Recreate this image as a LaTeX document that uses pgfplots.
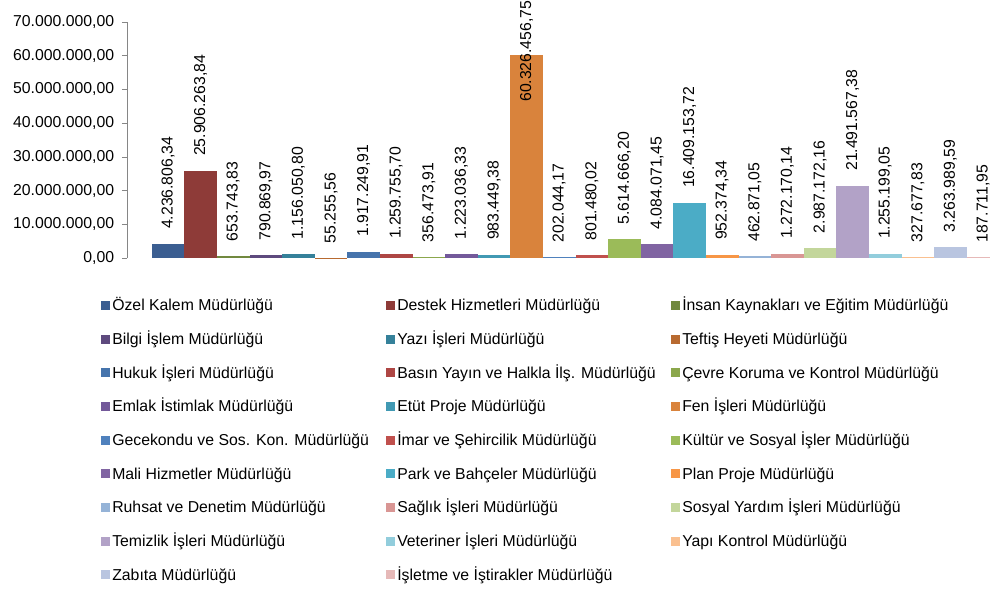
\documentclass[border=0pt]{standalone}
\usepackage{fontspec}
\setmainfont{Liberation Sans}
\usepackage{pgfplots}
\pgfplotsset{compat=1.18}

\definecolor{c1}{HTML}{3B5E91}
\definecolor{c2}{HTML}{8E3B38}
\definecolor{c3}{HTML}{71893F}
\definecolor{c4}{HTML}{5E4A7E}
\definecolor{c5}{HTML}{35819A}
\definecolor{c6}{HTML}{B86A30}
\definecolor{c7}{HTML}{4674AC}
\definecolor{c8}{HTML}{AE4644}
\definecolor{c9}{HTML}{8BA74C}
\definecolor{c10}{HTML}{73599A}
\definecolor{c11}{HTML}{4199B3}
\definecolor{c12}{HTML}{D9833C}
\definecolor{c13}{HTML}{4F81BD}
\definecolor{c14}{HTML}{C0504D}
\definecolor{c15}{HTML}{9BBB59}
\definecolor{c16}{HTML}{8064A2}
\definecolor{c17}{HTML}{4BACC6}
\definecolor{c18}{HTML}{F79646}
\definecolor{c19}{HTML}{95B3D7}
\definecolor{c20}{HTML}{D99694}
\definecolor{c21}{HTML}{C3D69B}
\definecolor{c22}{HTML}{B2A2C7}
\definecolor{c23}{HTML}{92CDDC}
\definecolor{c24}{HTML}{FAC090}
\definecolor{c25}{HTML}{B9C5E0}
\definecolor{c26}{HTML}{E6B9B8}
\definecolor{axgray}{HTML}{868686}

\newcommand{\lab}{\fontsize{11.85pt}{14pt}\selectfont}
\newcommand{\leg}[1]{\makebox[204pt][l]{#1}}

\begin{document}
\begin{tikzpicture}
\path[use as bounding box, clip] (0,0) rectangle (742.5pt,-442.5pt);
\begin{axis}[
  at={(95.25pt,-193.5pt)}, anchor=south west,
  scale only axis,
  width=647.25pt, height=177pt,
  xmin=-448.5, xmax=414.5,
  ymin=0, ymax=70000000,
  clip=false,
  ybar=0pt, bar width=24.45pt,
  axis x line=none,
  axis y line*=left,
  axis line style={axgray},
  xtick=\empty,
  ytick={0,10000000,20000000,30000000,40000000,50000000,60000000,70000000},
  scaled y ticks=false,
  tick align=outside,
  major tick length=3.75pt,
  tick style={axgray, thin},
  yticklabel style={font=\lab, text=black, xshift=-2.4pt,
    /pgf/number format/.cd, fixed, fixed zerofill, precision=2,
    1000 sep={.}, use comma, assume math mode=true},
  point meta=explicit symbolic,
  nodes near coords,
  every node near coord/.append style={font=\lab, text=black,
    yshift=10.9pt, rotate=90, anchor=west, inner sep=0pt},
  legend columns=3,
  legend cell align=left,
  legend style={at={(-0.0301,-0.1740)}, anchor=north west,
    draw=none, fill=none, inner sep=0pt, font=\lab,
    column sep=1.5pt, row sep=14.25pt,
    nodes={inner sep=0pt, text height=8.5pt, text depth=2.5pt}},
  legend image code/.code={\fill[#1, draw=none] (0pt,-2.4pt) rectangle (6.75pt,4.35pt);},
]
\addplot[fill=c1, draw=none] coordinates {(0,4236806.34) [4.236.806,34]};
\addplot[fill=c2, draw=none] coordinates {(0,25906263.84) [25.906.263,84]};
\addplot[fill=c3, draw=none] coordinates {(0,653743.83) [653.743,83]};
\addplot[fill=c4, draw=none] coordinates {(0,790869.97) [790.869,97]};
\addplot[fill=c5, draw=none] coordinates {(0,1156050.80) [1.156.050,80]};
\addplot[fill=c6, draw=none] coordinates {(0,55255.56) [55.255,56]};
\addplot[fill=c7, draw=none] coordinates {(0,1917249.91) [1.917.249,91]};
\addplot[fill=c8, draw=none] coordinates {(0,1259755.70) [1.259.755,70]};
\addplot[fill=c9, draw=none] coordinates {(0,356473.91) [356.473,91]};
\addplot[fill=c10, draw=none] coordinates {(0,1223036.33) [1.223.036,33]};
\addplot[fill=c11, draw=none] coordinates {(0,983449.38) [983.449,38]};
\addplot[fill=c12, draw=none,
  every node near coord/.append style={xshift=-46.45pt}]
  coordinates {(0,60326456.75) [60.326.456,75]};
\addplot[fill=c13, draw=none] coordinates {(0,202044.17) [202.044,17]};
\addplot[fill=c14, draw=none] coordinates {(0,801480.02) [801.480,02]};
\addplot[fill=c15, draw=none] coordinates {(0,5614666.20) [5.614.666,20]};
\addplot[fill=c16, draw=none] coordinates {(0,4084071.45) [4.084.071,45]};
\addplot[fill=c17, draw=none] coordinates {(0,16409153.72) [16.409.153,72]};
\addplot[fill=c18, draw=none] coordinates {(0,952374.34) [952.374,34]};
\addplot[fill=c19, draw=none] coordinates {(0,462871.05) [462.871,05]};
\addplot[fill=c20, draw=none] coordinates {(0,1272170.14) [1.272.170,14]};
\addplot[fill=c21, draw=none] coordinates {(0,2987172.16) [2.987.172,16]};
\addplot[fill=c22, draw=none] coordinates {(0,21491567.38) [21.491.567,38]};
\addplot[fill=c23, draw=none] coordinates {(0,1255199.05) [1.255.199,05]};
\addplot[fill=c24, draw=none] coordinates {(0,327677.83) [327.677,83]};
\addplot[fill=c25, draw=none] coordinates {(0,3263989.59) [3.263.989,59]};
\addplot[fill=c26, draw=none] coordinates {(0,187711.95) [187.711,95]};
\legend{
  \leg{Özel Kalem Müdürlüğü}, \leg{Destek Hizmetleri Müdürlüğü}, \leg{İnsan Kaynakları ve Eğitim Müdürlüğü},
  \leg{Bilgi İşlem Müdürlüğü}, \leg{Yazı İşleri Müdürlüğü}, \leg{Teftiş Heyeti Müdürlüğü},
  \leg{Hukuk İşleri Müdürlüğü}, \leg{Basın Yayın ve Halkla İlş. Müdürlüğü}, \leg{Çevre Koruma ve Kontrol Müdürlüğü},
  \leg{Emlak İstimlak Müdürlüğü}, \leg{Etüt Proje Müdürlüğü}, \leg{Fen İşleri Müdürlüğü},
  \leg{Gecekondu ve Sos. Kon. Müdürlüğü}, \leg{İmar ve Şehircilik Müdürlüğü}, \leg{Kültür ve Sosyal İşler Müdürlüğü},
  \leg{Mali Hizmetler Müdürlüğü}, \leg{Park ve Bahçeler Müdürlüğü}, \leg{Plan Proje Müdürlüğü},
  \leg{Ruhsat ve Denetim Müdürlüğü}, \leg{Sağlık İşleri Müdürlüğü}, \leg{Sosyal Yardım İşleri Müdürlüğü},
  \leg{Temizlik İşleri Müdürlüğü}, \leg{Veteriner İşleri Müdürlüğü}, \leg{Yapı Kontrol Müdürlüğü},
  \leg{Zabıta Müdürlüğü}, \leg{İşletme ve İştirakler Müdürlüğü}}
\end{axis}
\end{tikzpicture}
\end{document}
